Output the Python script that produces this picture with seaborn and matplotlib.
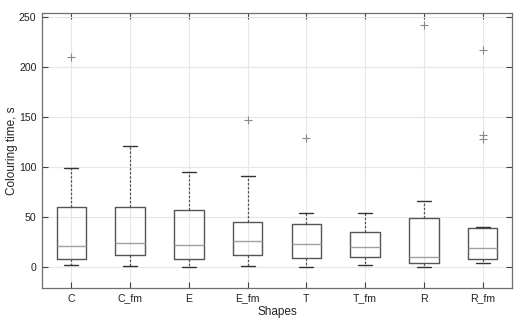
import matplotlib
matplotlib.use("Agg")
import matplotlib.pyplot as plt
import seaborn as sns

# box statistics
shapes = ["C", "C_fm", "E", "E_fm", "T", "T_fm", "R", "R_fm"]
whislo = [2, 1, 0, 1, 0, 2, 0, 4]
q1 = [8, 12, 8, 12, 9, 10, 4, 8]
med = [21, 24, 22, 26, 23, 20, 10, 19]
q3 = [60, 60, 57.5, 45, 43, 35, 49, 39]
whishi = [99, 121, 95, 91, 54, 54, 66, 40]
fliers = [[210], [], [], [147], [129], [], [242], [217, 132, 128]]

sns.set_style("whitegrid")
plt.rcParams["font.family"] = ["Liberation Sans", "DejaVu Sans"]

stats = []
for i, s in enumerate(shapes):
    stats.append(dict(label=s, whislo=whislo[i], q1=q1[i], med=med[i],
                      q3=q3[i], whishi=whishi[i], fliers=fliers[i]))

fig = plt.figure(figsize=(5.22, 3.26), dpi=100)
ax = fig.add_axes([0.0805, 0.1166, 0.9005, 0.8434])

ax.bxp(stats, positions=range(1, 9), widths=0.5, capwidths=0.24,
       boxprops=dict(color="#555555", linewidth=1.0),
       medianprops=dict(color="#a0a0a0", linewidth=1.0),
       whiskerprops=dict(color="#555555", linewidth=0.9, linestyle=(0, (2, 1.3))),
       capprops=dict(color="#333333", linewidth=1.0),
       flierprops=dict(marker="+", markeredgecolor="#888888", markersize=6,
                       markeredgewidth=0.8, linestyle="none"))

ax.set_xlim(0.5, 8.5)
ax.set_ylim(-21, 254)
ax.set_yticks([0, 50, 100, 150, 200, 250])
ax.set_xticks(range(1, 9))
ax.set_xticklabels(shapes)
ax.grid(True, color="#e6e6e6", linewidth=0.8)
ax.set_axisbelow(True)
for sp in ax.spines.values():
    sp.set_color("#6e6e6e")
    sp.set_linewidth(0.9)
ax.tick_params(direction="in", length=4, color="#444444", labelsize=7.6,
               labelcolor="#222222", top=True, right=True, bottom=True, left=True,
               pad=4)
ax.set_xlabel("Shapes", fontsize=8.5, color="#222222", labelpad=2)
ax.set_ylabel("Colouring time, s", fontsize=8.5, color="#222222", labelpad=1)

fig.savefig("out.png", dpi=100)
